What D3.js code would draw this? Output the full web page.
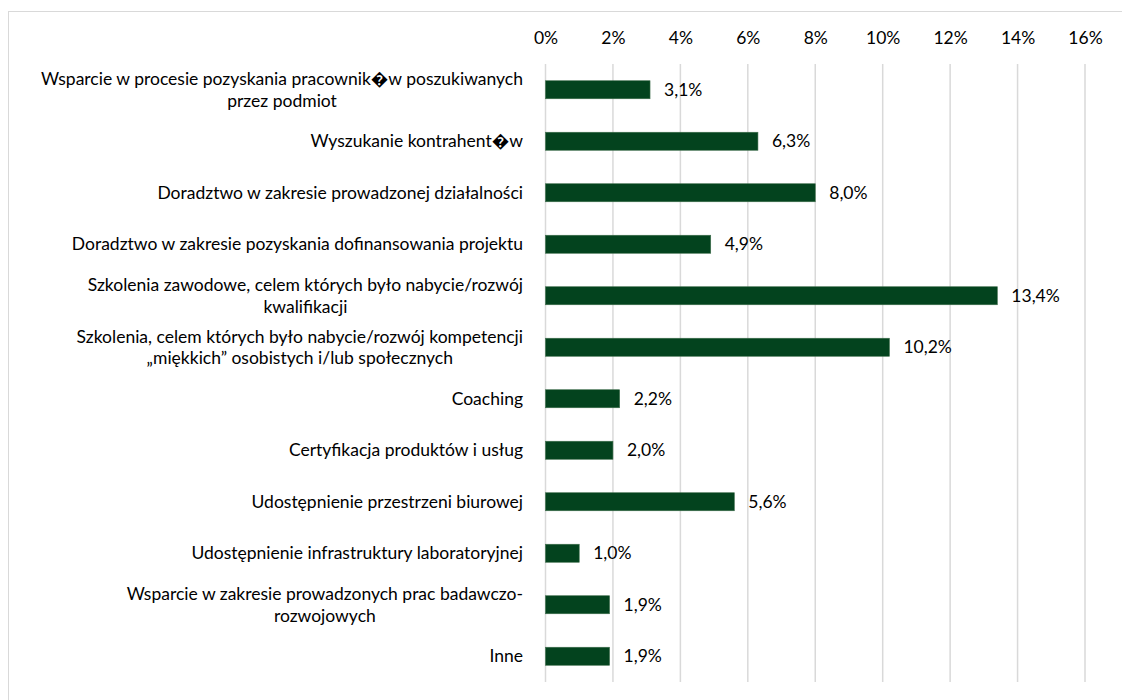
<!DOCTYPE html>
<html>
<head>
<meta charset="utf-8">
<script src="https://cdn.jsdelivr.net/npm/d3@7"></script>
<style>
  html, body { margin: 0; padding: 0; background: #ffffff; }
  svg { display: block; }
</style>
</head>
<body>
<div id="chart"></div>
<script>
// categories (label lines), top to bottom
var categories = [
	["Wsparcie w procesie pozyskania pracownik\uFFFDw poszukiwanych", "przez podmiot"],
	["Wyszukanie kontrahent\uFFFDw"],
	["Doradztwo w zakresie prowadzonej działalności"],
	["Doradztwo w zakresie pozyskania dofinansowania projektu"],
	["Szkolenia zawodowe, celem których było nabycie/rozwój", "kwalifikacji"],
	["Szkolenia, celem których było nabycie/rozwój kompetencji", "„miękkich” osobistych i/lub społecznych"],
	["Coaching"],
	["Certyfikacja produktów i usług"],
	["Udostępnienie przestrzeni biurowej"],
	["Udostępnienie infrastruktury laboratoryjnej"],
	["Wsparcie w zakresie prowadzonych prac badawczo-", "rozwojowych"],
	["Inne"]
];
var values = [0.031, 0.063, 0.080, 0.049, 0.134, 0.102, 0.022, 0.020, 0.056, 0.010, 0.019, 0.019];
var tickValues = [0, 0.02, 0.04, 0.06, 0.08, 0.10, 0.12, 0.14, 0.16];

var width = 1122, height = 700;
var font = "Lato, 'Open Sans', sans-serif";
var fontSize = "17.5px";
var barColor = '#03431e';

var svg = d3.select("#chart")
	.append("svg")
	.attr("width", width)
	.attr("height", height);

// outer chart frame (runs off the right and bottom of the picture)
svg.append("rect")
	.attr("x", 8.5).attr("y", 11.5)
	.attr("width", 1130).attr("height", 720)
	.attr("fill", "none")
	.attr("stroke", "#d9d9d9")
	.attr("stroke-width", 1);

var x = d3.scaleLinear()
	.domain([0, 0.16])
	.range([545.5, 1085]);

var idx = d3.range(categories.length);
var y = d3.scaleBand()
	.domain(idx)
	.range([64, 682])
	.paddingInner(0.65)
	.paddingOuter(0.325);

// gridlines
svg.append("g")
	.selectAll("line")
	.data(tickValues)
	.enter()
	.append("line")
	.attr("x1", function(d) { return x(d); })
	.attr("x2", function(d) { return x(d); })
	.attr("y1", 64)
	.attr("y2", 682)
	.attr("stroke", "#d9d9d9")
	.attr("stroke-width", 1.5);

// top axis labels
var pct = function(d) { return Math.round(d * 100) + "%"; };
var axis = svg.append("g")
	.attr("transform", "translate(0,38)")
	.call(d3.axisTop(x).tickValues(tickValues).tickFormat(pct).tickSize(0).tickPadding(0));
axis.select(".domain").remove();
axis.selectAll("text")
	.attr("dy", "0.35em")
	.attr("fill", "#000000")
	.style("font-family", font)
	.style("font-size", fontSize);

// bars
svg.append("g")
	.selectAll("rect")
	.data(values)
	.enter()
	.append("rect")
	.attr("x", x(0))
	.attr("y", function(d, i) { return y(i); })
	.attr("width", function(d) { return x(d) - x(0); })
	.attr("height", y.bandwidth())
	.attr("fill", barColor)
	.attr("stroke", "#3f6e4c")
	.attr("stroke-width", 0.6);

// value labels
var fmt = function(d) { return (d * 100).toFixed(1).replace(".", ",") + "%"; };
svg.append("g")
	.selectAll("text")
	.data(values)
	.enter()
	.append("text")
	.attr("x", function(d) { return x(d) + 14; })
	.attr("y", function(d, i) { return y(i) + y.bandwidth() / 2; })
	.attr("dy", "0.35em")
	.attr("fill", "#000000")
	.style("font-family", font)
	.style("font-size", fontSize)
	.text(fmt);

// category labels, wrapped lines centred on their block, block right aligned
var labelRight = 523, lineH = 21.5;
var groups = svg.append("g")
	.selectAll("g")
	.data(categories)
	.enter()
	.append("g");

groups.each(function(lines, i) {
	var g = d3.select(this);
	var cy = y(i) + y.bandwidth() / 2;
	var texts = g.selectAll("text")
		.data(lines)
		.enter()
		.append("text")
		.attr("y", function(d, j) { return cy + (j - (lines.length - 1) / 2) * lineH; })
		.attr("dy", "0.35em")
		.attr("text-anchor", "middle")
		.attr("fill", "#000000")
		.style("font-family", font)
		.style("font-size", fontSize)
		.text(function(d) { return d; });
	var maxW = 0;
	texts.each(function() { maxW = Math.max(maxW, this.getComputedTextLength()); });
	texts.attr("x", labelRight - maxW / 2);
});
</script>
</body>
</html>
